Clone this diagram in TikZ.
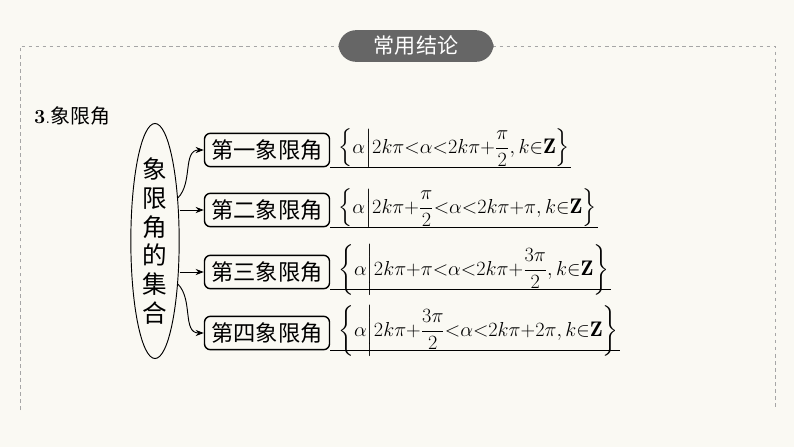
\documentclass[tikz,border=0pt]{standalone}
\usepackage{amsmath,amssymb}
\usepackage{fontspec}
\newfontfamily\cjk{Noto Sans CJK SC}
\usetikzlibrary{shapes.geometric,arrows.meta}
\definecolor{paper}{HTML}{FAF9F3}
\definecolor{banner}{HTML}{666666}
\tikzset{
  kind/.style={draw,very thick,rounded corners=5pt,minimum width=3.75cm,minimum height=1.0cm,inner sep=1pt,font=\cjk\fontsize{19}{21}\selectfont},
  setf/.style={anchor=west,inner sep=1pt,font=\fontsize{18}{20}\selectfont},
  link/.style={thick,-{Stealth[length=7pt]}}
}
\begin{document}
\begin{tikzpicture}[x=0.03cm,y=-0.03cm]
\fill[paper](0,0)rectangle(794,447);
\useasboundingbox(0,0)rectangle(794,447);
\draw[gray!70,dashed](20,410)--(20,46)--(775,46)--(775,410);
\node[fill=banner,rounded corners=15pt,minimum width=4.65cm,minimum height=0.95cm,text=white,font=\cjk\fontsize{18}{20}\selectfont](title)at(416,46){常用结论};
\node[anchor=west,font=\fontsize{17}{19}\selectfont](head)at(30,116){\textbf{3}.{\cjk 象限角}};
\node[draw,thick,ellipse,minimum width=1.45cm,minimum height=6.45cm,inner sep=0pt,align=center,font=\cjk\fontsize{21}{24.5}\selectfont](all)at(155,241){象\\限\\角\\的\\集\\合};
\node[kind](b1)at(267,150){第一象限角};
\node[kind](b2)at(267,210){第二象限角};
\node[kind](b3)at(267,272){第三象限角};
\node[kind](b4)at(267,333){第四象限角};
\node[setf](f1)at(337,148){$\left\{\alpha\middle|2k\pi{<}\alpha{<}2k\pi{+}\dfrac{\pi}{2},k{\in}\mathbf{Z}\right\}$};
\node[setf](f2)at(337,208){$\left\{\alpha\middle|2k\pi{+}\dfrac{\pi}{2}{<}\alpha{<}2k\pi{+}\pi,k{\in}\mathbf{Z}\right\}$};
\node[setf](f3)at(337,270){$\left\{\alpha\middle|2k\pi{+}\pi{<}\alpha{<}2k\pi{+}\dfrac{3\pi}{2},k{\in}\mathbf{Z}\right\}$};
\node[setf](f4)at(337,331){$\left\{\alpha\middle|2k\pi{+}\dfrac{3\pi}{2}{<}\alpha{<}2k\pi{+}2\pi,k{\in}\mathbf{Z}\right\}$};
\foreach \i in {1,...,4}
  \draw[very thick](b\i.south east)--(f\i.east|-b\i.south);
\draw[link](all.62)to[out=45,in=180](b1.west);
\draw[link](all.east|-b2.west)--(b2.west);
\draw[link](all.east|-b3.west)--(b3.west);
\draw[link](all.-62)to[out=-45,in=180](b4.west);
\end{tikzpicture}
\end{document}
